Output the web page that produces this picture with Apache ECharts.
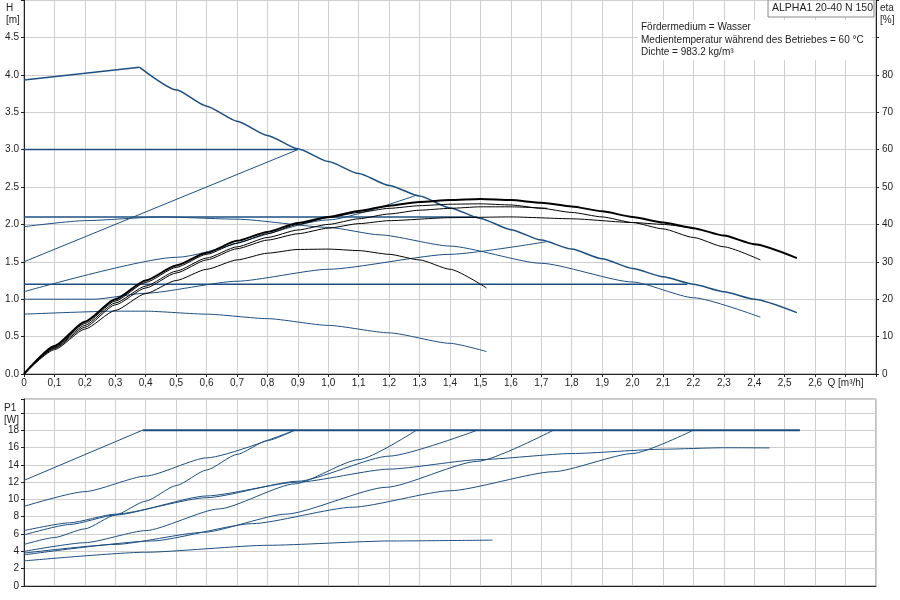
<!DOCTYPE html>
<html><head><meta charset="utf-8">
<script src="https://cdn.jsdelivr.net/npm/echarts@6/dist/echarts.min.js"></script>
<style>html,body{margin:0;padding:0;background:#fff}#c{width:900px;height:600px}</style>
</head><body><div id="c"></div>
<script>
// H curves [Q m3/h, H m]
const hMaxStart = [[0,3.93],[0.38,4.1]];
const hMax = [[0.38,4.1],[0.5,3.8],[0.6,3.58],[0.7,3.38],[0.8,3.19],[0.9,3.01],[1.0,2.84],[1.1,2.68],[1.2,2.52],[1.3,2.38],[1.4,2.22],[1.5,2.08],[1.6,1.93],[1.7,1.79],[1.8,1.67],[1.9,1.54],[2.0,1.41],[2.1,1.3],[2.2,1.2],[2.3,1.1],[2.4,1.0],[2.54,0.82]];
const hConst3 = [[0,3.0],[0.9,3.0]];
const hProp3 = [[0,1.5],[0.9,3.0]];
const hConst21 = [[0,2.1],[1.49,2.1]];
const hProp24 = [[0,1.1],[0.5,1.56],[1.0,2.06],[1.29,2.39]];
const hProp18 = [[0,1.0],[0.23,1.0],[0.4,1.08],[0.7,1.24],[1.0,1.4],[1.4,1.6],[1.72,1.77]];
const hConst12 = [[0,1.2],[2.18,1.2]];
const hMid = [[0,1.97],[0.2,2.05],[0.45,2.1],[0.7,2.07],[1.0,1.96],[1.17,1.86],[1.4,1.71],[1.7,1.48],[2.0,1.23],[2.2,1.02],[2.42,0.76]];
const hMin = [[0,0.8],[0.3,0.84],[0.4,0.84],[0.6,0.8],[0.8,0.74],[1.0,0.65],[1.2,0.55],[1.4,0.41],[1.52,0.3]];
// eta curves [Q, %]
const eta1 = [[0,0],[0.1,7.5],[0.2,14],[0.3,20],[0.4,25],[0.5,29],[0.6,32.4],[0.7,35.6],[0.8,38],[0.9,40.4],[1.0,42],[1.1,43.6],[1.2,45],[1.3,46],[1.4,46.5],[1.5,46.8],[1.6,46.5],[1.7,45.8],[1.8,44.8],[1.9,43.5],[2.0,42],[2.1,40.5],[2.2,39],[2.3,37],[2.4,34.7],[2.54,31]];
const eta2 = [[0,0],[0.1,7.2],[0.2,13.5],[0.3,19.5],[0.4,24.5],[0.5,28.5],[0.6,32],[0.7,35],[0.8,37.5],[0.9,40],[1.0,41.8],[1.1,43.2],[1.2,44.3],[1.3,45],[1.4,45.4],[1.5,45.5],[1.6,45.2],[1.7,44.3],[1.8,43.2],[1.9,42],[2.0,40.5],[2.1,38.8],[2.2,36.5],[2.3,34],[2.42,30.5]];
const eta3 = [[0,0],[0.1,7],[0.2,13],[0.3,19],[0.4,23.5],[0.5,27.5],[0.6,31],[0.7,34],[0.8,36.5],[0.9,38.5],[1.0,40],[1.1,41.5],[1.2,42.8],[1.3,43.8],[1.4,44.3],[1.5,44.7],[1.6,44.7],[1.72,44.3]];
const eta4 = [[0,0],[0.1,6.8],[0.2,12.5],[0.3,18.5],[0.4,23],[0.5,27],[0.6,30.5],[0.7,33.5],[0.8,35.8],[0.9,37.5],[1.0,39],[1.1,40.2],[1.2,41],[1.4,41.8],[1.6,42],[1.8,41.5],[2.0,40.5],[2.1,40],[2.2,39]];
const eta5 = [[0,0],[0.1,6.5],[0.2,12],[0.3,17],[0.4,21.5],[0.5,25],[0.6,28],[0.7,30.5],[0.8,32.3],[0.9,33.3],[1.0,33.4],[1.1,33],[1.2,32],[1.3,30.5],[1.4,28],[1.52,23]];
// P1 curves [Q, W]
const pMax = [[0.39,18],[2.55,18]];
const p1 = [[0,12.2],[0.39,18]];
const p2 = [[0,9.2],[0.2,10.9],[0.4,12.7],[0.6,14.8],[0.89,18]];
const p3 = [[0,4.8],[0.1,5.6],[0.2,6.6],[0.3,8.2],[0.4,9.8],[0.5,11.6],[0.6,13.4],[0.7,15.2],[0.8,16.8],[0.89,18]];
const p4 = [[0,6.4],[0.15,7.3],[0.3,8.3],[0.6,10.2],[0.9,12.1],[1.2,15.0],[1.49,18]];
const p5 = [[0,5.9],[0.15,7.1],[0.3,8.2],[0.6,10.4],[0.9,12.0],[1.2,13.5],[1.5,14.6],[1.8,15.3],[2.1,15.8],[2.3,15.97],[2.45,15.95]];
const p6 = [[0,4.0],[0.2,5.0],[0.4,6.4],[0.64,8.9],[0.89,11.8],[1.1,14.6],[1.29,18]];
const p7 = [[0,3.8],[0.3,4.8],[0.59,6.2],[0.86,8.3],[1.19,11.4],[1.49,14.4],[1.74,18]];
const p8 = [[0,3.6],[0.42,5.2],[0.75,7.2],[1.08,9.1],[1.4,11.0],[1.74,13.2],[2.0,15.3],[2.2,18]];
const p9 = [[0,2.9],[0.4,3.9],[0.8,4.7],[1.2,5.2],[1.54,5.3]];

const blue = '#1c4f80';
const comma = v => Math.abs(v) < 1e-9 ? '0' : v.toFixed(1).replace('.', ',');
function ln(data, color, w, x, y, smooth) {
  return {type:'line', data, xAxisIndex:x, yAxisIndex:y, showSymbol:false, symbol:'none',
    smooth:smooth?0.2:false, smoothMonotone:smooth?'x':undefined,
    lineStyle:{color, width:w}, silent:true, animation:false, z:color===blue?3:4};
}
const split = {show:true, lineStyle:{color:'#cfcfcf', width:1}};
const lbl = {color:'#222', fontSize:10, fontFamily:'Liberation Sans, Arial'};
const chart = echarts.init(document.getElementById('c'));
chart.setOption({
  animation:false,
  grid:[{left:24, right:24, top:0, height:374, show:true, borderColor:'#888', borderWidth:1},
        {left:24, right:24, top:399, height:187, show:true, borderColor:'#888', borderWidth:1}],
  xAxis:[
    {gridIndex:0, type:'value', min:0, max:2.8, interval:0.1, splitLine:split,
     axisLine:{lineStyle:{color:'#222'}}, axisTick:{show:true, length:3},
     axisLabel:Object.assign({}, lbl, {margin:4, formatter:v => Math.abs(v-2.7)<1e-6 ? 'Q [m³/h]' : (v>2.65 ? '' : comma(v))})},
    {gridIndex:1, type:'value', min:0, max:2.8, interval:0.1, splitLine:split,
     axisLine:{lineStyle:{color:'#222'}}, axisTick:{show:false}, axisLabel:{show:false}}
  ],
  yAxis:[
    {gridIndex:0, type:'value', min:0, max:5, interval:0.5, splitLine:split,
     axisLine:{show:true, lineStyle:{color:'#222'}}, axisTick:{show:true, length:3},
     axisLabel:Object.assign({}, lbl, {margin:5, formatter:v => v>4.9 ? '' : v.toFixed(1)})},
    {gridIndex:0, type:'value', min:0, max:100, interval:10, position:'right', splitLine:{show:false},
     axisLine:{show:true, lineStyle:{color:'#222'}}, axisTick:{show:true, length:3},
     axisLabel:Object.assign({}, lbl, {margin:6, formatter:v => v>85 ? '' : String(v)})},
    {gridIndex:1, type:'value', min:0, max:21.6, interval:2, splitLine:split,
     axisLine:{show:true, lineStyle:{color:'#222'}}, axisTick:{show:true, length:3},
     axisLabel:Object.assign({}, lbl, {margin:5, formatter:v => v>19 ? '' : String(v)})}
  ],
  graphic:[
    {type:'text', left:6, top:2, style:{text:'H\n[m]', fill:'#222', fontSize:10, fontFamily:'Liberation Sans, Arial', lineHeight:12, align:'center'}},
    {type:'text', left:880, top:2, style:{text:'eta\n[%]', fill:'#222', fontSize:10, fontFamily:'Liberation Sans, Arial', lineHeight:12}},
    {type:'text', left:4, top:402, style:{text:'P1\n[W]', fill:'#222', fontSize:10, fontFamily:'Liberation Sans, Arial', lineHeight:12}},
    {type:'rect', shape:{x:768, y:0, width:106, height:17}, style:{fill:'#fff', stroke:'#888', lineWidth:1}, z:10},
    {type:'text', left:772, top:3, z:11, style:{text:'ALPHA1 20-40 N 150', fill:'#222', fontSize:10.5, fontFamily:'Liberation Sans, Arial'}},
    {type:'rect', shape:{x:638, y:20, width:234, height:40}, style:{fill:'#fff'}, z:9},
    {type:'text', left:641, top:21, z:11, style:{text:'Fördermedium = Wasser\nMedientemperatur während des Betriebes = 60 °C\nDichte = 983.2 kg/m³', fill:'#222', fontSize:10, fontFamily:'Liberation Sans, Arial', lineHeight:12.5}}
  ],
  series:[
    ln(hMaxStart, blue, 1.5, 0, 0), ln(hMax, blue, 1.5, 0, 0, true), ln(hConst3, blue, 1.5, 0, 0), ln(hProp3, blue, 1, 0, 0),
    ln(hConst21, blue, 1.5, 0, 0), ln(hProp24, blue, 1, 0, 0, true), ln(hProp18, blue, 1, 0, 0, true),
    ln(hConst12, blue, 1.5, 0, 0), ln(hMid, blue, 1, 0, 0, true), ln(hMin, blue, 1, 0, 0, true),
    ln(eta1, '#000', 2, 0, 1, true), ln(eta2, '#000', 1, 0, 1, true), ln(eta3, '#000', 1, 0, 1, true),
    ln(eta4, '#000', 1, 0, 1, true), ln(eta5, '#000', 1, 0, 1, true),
    ln(pMax, blue, 2, 1, 2), ln(p1, blue, 1, 1, 2), ln(p2, blue, 1, 1, 2, true), ln(p3, blue, 1, 1, 2, true),
    ln(p4, blue, 1, 1, 2, true), ln(p5, blue, 1, 1, 2, true), ln(p6, blue, 1, 1, 2, true),
    ln(p7, blue, 1, 1, 2, true), ln(p8, blue, 1, 1, 2, true), ln(p9, blue, 1, 1, 2, true)
  ]
});
</script></body></html>
